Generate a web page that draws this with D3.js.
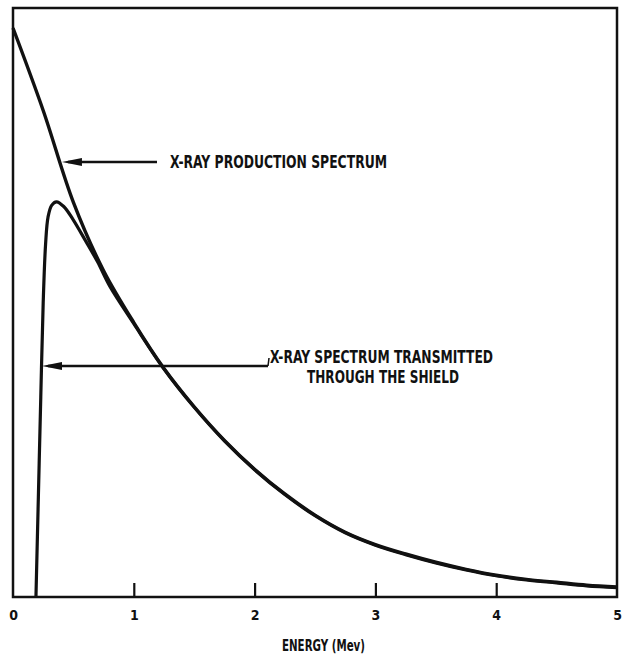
<!DOCTYPE html>
<html>
<head>
<meta charset="utf-8">
<script src="https://cdn.jsdelivr.net/npm/d3@7"></script>
<style>
  body { margin: 0; background: #fff; }
  text { font-family: "Liberation Sans Narrow", "DejaVu Sans Condensed", "Liberation Sans", sans-serif; font-weight: bold; fill: #111; }
</style>
</head>
<body>
<div class="chart"></div>
<script>
// energy (MeV) and relative intensity
let prodEnergy = [0, 0.25, 0.5, 0.75, 1.0, 1.25, 1.5, 1.75, 2.0, 2.25, 2.5, 2.75, 3.0, 3.25, 3.5, 3.75, 4.0, 4.25, 4.5, 4.75, 5.0];
let prodValue  = [96.6, 82.6, 67.0, 55.4, 46.6, 38.8, 32.3, 26.6, 21.7, 17.5, 13.9, 11.0, 8.9, 7.3, 5.9, 4.7, 3.7, 3.0, 2.5, 2.0, 1.7];

let transEnergy = [0.19, 0.21, 0.23, 0.25, 0.27, 0.29, 0.32, 0.36, 0.42, 0.5, 0.6, 0.7, 0.8, 1.0, 1.25, 1.5, 1.75, 2.0, 2.25, 2.5, 2.75, 3.0, 3.25, 3.5, 3.75, 4.0, 4.25, 4.5, 4.75, 5.0];
let transValue  = [0, 17, 34, 50, 60, 64.5, 66.5, 67.1, 66.3, 64.0, 60.5, 56.9, 52.8, 46.4, 38.7, 32.2, 26.5, 21.6, 17.4, 13.8, 10.9, 8.8, 7.2, 5.8, 4.6, 3.6, 2.9, 2.4, 1.9, 1.6];

let xTicks = [0, 1, 2, 3, 4, 5];

let svgWidth = 623;
let svgHeight = 655;
let margin = { top: 8, right: 6, bottom: 58, left: 13 };
let width = svgWidth - margin.left - margin.right;
let height = svgHeight - margin.top - margin.bottom;

let svg = d3.select(".chart")
  .append("svg")
  .attr("width", svgWidth)
  .attr("height", svgHeight);

let chartGroup = svg.append("g")
  .attr("transform", `translate(${margin.left}, ${margin.top})`);

let x = d3.scaleLinear().domain([0, 5]).range([0, width]);
let y = d3.scaleLinear().domain([0, 100]).range([height, 0]);

// frame
chartGroup.append("rect")
  .attr("x", 0).attr("y", 0)
  .attr("width", width).attr("height", height)
  .attr("fill", "none")
  .attr("stroke", "#111")
  .attr("stroke-width", 2.5);

// bottom axis: inward ticks, no domain line (frame draws it)
let bottomAxis = d3.axisBottom(x)
  .tickValues(xTicks)
  .tickSize(-14)
  .tickFormat(d3.format("d"));

let xAxis = chartGroup.append("g")
  .attr("transform", `translate(0, ${height})`)
  .call(bottomAxis);
xAxis.select(".domain").remove();
xAxis.selectAll(".tick line")
  .attr("stroke", "#111")
  .attr("stroke-width", 2.2);
xAxis.selectAll(".tick")
  .filter(d => d === 0 || d === 5)
  .select("line").remove();
xAxis.selectAll(".tick text")
  .attr("y", 23)
  .attr("dy", 0)
  .style("font-size", "14px")
  .style("font-family", "'Liberation Sans Narrow', 'DejaVu Sans Condensed', sans-serif")
  .style("font-weight", "bold")
  .attr("fill", "#111");

let line = d3.line()
  .x(d => x(d[0]))
  .y(d => y(d[1]))
  .curve(d3.curveCatmullRom.alpha(0.5));

let prodData = prodEnergy.map((e, i) => [e, prodValue[i]]);
let transData = transEnergy.map((e, i) => [e, transValue[i]]);

chartGroup.append("path")
  .datum(transData)
  .attr("d", line)
  .attr("fill", "none")
  .attr("stroke", "#111")
  .attr("stroke-width", 3.2);

chartGroup.append("path")
  .datum(prodData)
  .attr("d", line)
  .attr("fill", "none")
  .attr("stroke", "#111")
  .attr("stroke-width", 3.4)
  .attr("stroke-linejoin", "round");

// arrows
function arrow(x1, x2, yy) {
  chartGroup.append("line")
    .attr("x1", x1 + 6).attr("x2", x2)
    .attr("y1", yy).attr("y2", yy)
    .attr("stroke", "#111")
    .attr("stroke-width", 2.6);
  chartGroup.append("path")
    .attr("d", `M${x1},${yy} L${x1 + 20},${yy - 4} L${x1 + 20},${yy + 4} Z`)
    .attr("fill", "#111");
}
arrow(x(0.405), 157 - margin.left, 162 - margin.top);
arrow(x(0.24), 268 - margin.left, 366 - margin.top);
chartGroup.append("line")
  .attr("x1", 268 - margin.left).attr("x2", 269 - margin.left)
  .attr("y1", 366 - margin.top).attr("y2", 358 - margin.top)
  .attr("stroke", "#111").attr("stroke-width", 1.5);

// labels
svg.append("text")
  .attr("x", 170).attr("y", 168)
  .attr("textLength", 217).attr("lengthAdjust", "spacingAndGlyphs")
  .style("font-size", "17px")
  .text("X-RAY PRODUCTION SPECTRUM");

svg.append("text")
  .attr("x", 270).attr("y", 363)
  .attr("textLength", 223).attr("lengthAdjust", "spacingAndGlyphs")
  .style("font-size", "17px")
  .text("X-RAY SPECTRUM TRANSMITTED");

svg.append("text")
  .attr("x", 307).attr("y", 383)
  .attr("textLength", 152).attr("lengthAdjust", "spacingAndGlyphs")
  .style("font-size", "17px")
  .text("THROUGH THE SHIELD");

svg.append("text")
  .attr("x", 282).attr("y", 651)
  .attr("textLength", 83).attr("lengthAdjust", "spacingAndGlyphs")
  .style("font-size", "16px")
  .text("ENERGY (Mev)");
</script>
</body>
</html>
